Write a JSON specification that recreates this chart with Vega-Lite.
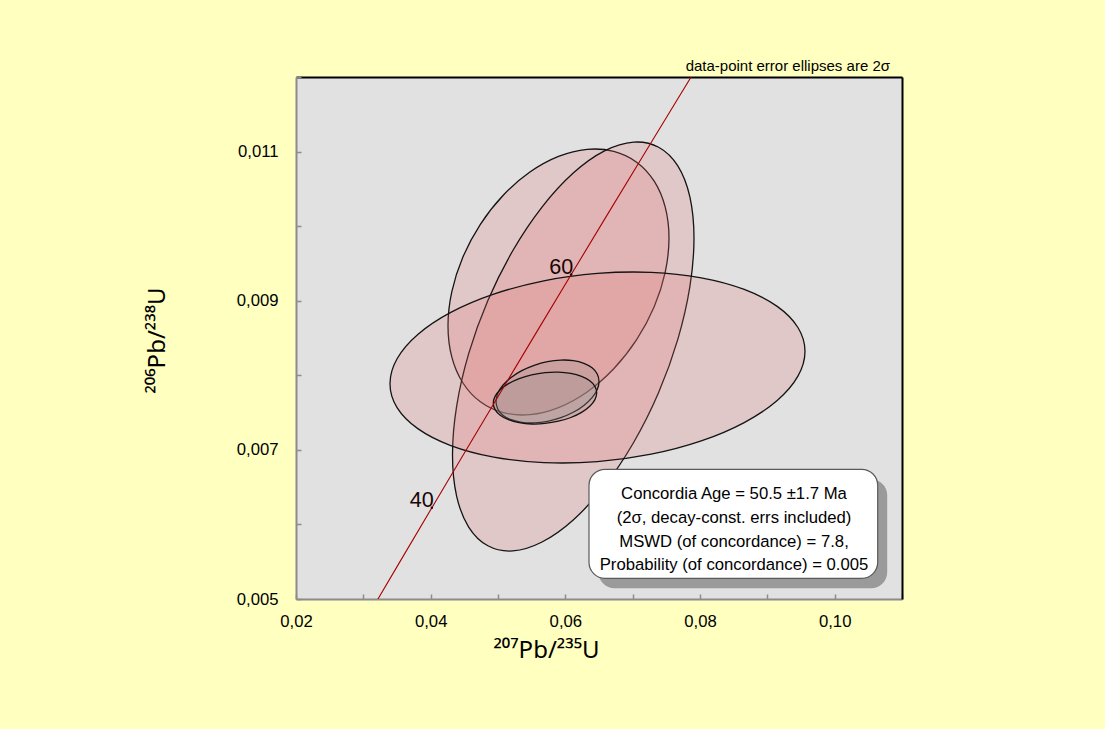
{
  "$schema": "https://vega.github.io/schema/vega-lite/v6.json",
  "width": 606,
  "height": 522,
  "autosize": "none",
  "padding": {"left": 296, "top": 77, "right": 203, "bottom": 130},
  "background": "#FFFFC0",
  "config": {
    "view": {"fill": "#E1E1E1", "stroke": null},
    "font": "Liberation Sans"
  },
  "title": {
    "text": "data-point error ellipses are 2σ",
    "anchor": "end",
    "frame": "group",
    "orient": "top",
    "offset": 7,
    "dx": -12,
    "dy": 24,
    "fontSize": 15,
    "fontWeight": "normal",
    "font": "Liberation Sans",
    "color": "#000000",
    "baseline": "alphabetic"
  },
  "datasets": {
    "ellipses": [
      {"e": "A", "k": 0, "x": 0.075396, "y": 0.009840},
      {"e": "A", "k": 1, "x": 0.074836, "y": 0.010255},
      {"e": "A", "k": 2, "x": 0.073197, "y": 0.010603},
      {"e": "A", "k": 3, "x": 0.070589, "y": 0.010858},
      {"e": "A", "k": 4, "x": 0.067191, "y": 0.011003},
      {"e": "A", "k": 5, "x": 0.063232, "y": 0.011030},
      {"e": "A", "k": 6, "x": 0.058985, "y": 0.010935},
      {"e": "A", "k": 7, "x": 0.054738, "y": 0.010725},
      {"e": "A", "k": 8, "x": 0.050780, "y": 0.010415},
      {"e": "A", "k": 9, "x": 0.047381, "y": 0.010025},
      {"e": "A", "k": 10, "x": 0.044773, "y": 0.009583},
      {"e": "A", "k": 11, "x": 0.043134, "y": 0.009118},
      {"e": "A", "k": 12, "x": 0.042574, "y": 0.008662},
      {"e": "A", "k": 13, "x": 0.043134, "y": 0.008247},
      {"e": "A", "k": 14, "x": 0.044773, "y": 0.007900},
      {"e": "A", "k": 15, "x": 0.047381, "y": 0.007644},
      {"e": "A", "k": 16, "x": 0.050780, "y": 0.007499},
      {"e": "A", "k": 17, "x": 0.054738, "y": 0.007472},
      {"e": "A", "k": 18, "x": 0.058985, "y": 0.007567},
      {"e": "A", "k": 19, "x": 0.063232, "y": 0.007777},
      {"e": "A", "k": 20, "x": 0.067191, "y": 0.008087},
      {"e": "A", "k": 21, "x": 0.070589, "y": 0.008477},
      {"e": "A", "k": 22, "x": 0.073197, "y": 0.008919},
      {"e": "A", "k": 23, "x": 0.074836, "y": 0.009384},

      {"e": "B", "k": 0, "x": 0.079108, "y": 0.009840},
      {"e": "B", "k": 1, "x": 0.078497, "y": 0.010392},
      {"e": "B", "k": 2, "x": 0.076705, "y": 0.010808},
      {"e": "B", "k": 3, "x": 0.073855, "y": 0.011058},
      {"e": "B", "k": 4, "x": 0.070142, "y": 0.011127},
      {"e": "B", "k": 5, "x": 0.065816, "y": 0.011009},
      {"e": "B", "k": 6, "x": 0.061175, "y": 0.010712},
      {"e": "B", "k": 7, "x": 0.056534, "y": 0.010256},
      {"e": "B", "k": 8, "x": 0.052209, "y": 0.009673},
      {"e": "B", "k": 9, "x": 0.048495, "y": 0.009003},
      {"e": "B", "k": 10, "x": 0.045645, "y": 0.008290},
      {"e": "B", "k": 11, "x": 0.043853, "y": 0.007584},
      {"e": "B", "k": 12, "x": 0.043242, "y": 0.006933},
      {"e": "B", "k": 13, "x": 0.043853, "y": 0.006380},
      {"e": "B", "k": 14, "x": 0.045645, "y": 0.005965},
      {"e": "B", "k": 15, "x": 0.048495, "y": 0.005714},
      {"e": "B", "k": 16, "x": 0.052209, "y": 0.005645},
      {"e": "B", "k": 17, "x": 0.056534, "y": 0.005764},
      {"e": "B", "k": 18, "x": 0.061175, "y": 0.006060},
      {"e": "B", "k": 19, "x": 0.065816, "y": 0.006516},
      {"e": "B", "k": 20, "x": 0.070142, "y": 0.007099},
      {"e": "B", "k": 21, "x": 0.073855, "y": 0.007769},
      {"e": "B", "k": 22, "x": 0.076705, "y": 0.008482},
      {"e": "B", "k": 23, "x": 0.078497, "y": 0.009188},

      {"e": "C", "k": 0, "x": 0.095594, "y": 0.008322},
      {"e": "C", "k": 1, "x": 0.094543, "y": 0.008641},
      {"e": "C", "k": 2, "x": 0.091465, "y": 0.008924},
      {"e": "C", "k": 3, "x": 0.086568, "y": 0.009151},
      {"e": "C", "k": 4, "x": 0.080186, "y": 0.009306},
      {"e": "C", "k": 5, "x": 0.072752, "y": 0.009380},
      {"e": "C", "k": 6, "x": 0.064777, "y": 0.009366},
      {"e": "C", "k": 7, "x": 0.056802, "y": 0.009267},
      {"e": "C", "k": 8, "x": 0.049368, "y": 0.009088},
      {"e": "C", "k": 9, "x": 0.042986, "y": 0.008843},
      {"e": "C", "k": 10, "x": 0.038089, "y": 0.008547},
      {"e": "C", "k": 11, "x": 0.035011, "y": 0.008221},
      {"e": "C", "k": 12, "x": 0.033960, "y": 0.007887},
      {"e": "C", "k": 13, "x": 0.035011, "y": 0.007567},
      {"e": "C", "k": 14, "x": 0.038089, "y": 0.007285},
      {"e": "C", "k": 15, "x": 0.042986, "y": 0.007058},
      {"e": "C", "k": 16, "x": 0.049368, "y": 0.006903},
      {"e": "C", "k": 17, "x": 0.056802, "y": 0.006829},
      {"e": "C", "k": 18, "x": 0.064777, "y": 0.006842},
      {"e": "C", "k": 19, "x": 0.072752, "y": 0.006942},
      {"e": "C", "k": 20, "x": 0.080186, "y": 0.007120},
      {"e": "C", "k": 21, "x": 0.086568, "y": 0.007366},
      {"e": "C", "k": 22, "x": 0.091465, "y": 0.007662},
      {"e": "C", "k": 23, "x": 0.094543, "y": 0.007988},

      {"e": "D", "k": 0, "x": 0.065000, "y": 0.007918},
      {"e": "D", "k": 1, "x": 0.064739, "y": 0.008017},
      {"e": "D", "k": 2, "x": 0.063975, "y": 0.008100},
      {"e": "D", "k": 3, "x": 0.062759, "y": 0.008161},
      {"e": "D", "k": 4, "x": 0.061175, "y": 0.008197},
      {"e": "D", "k": 5, "x": 0.059330, "y": 0.008204},
      {"e": "D", "k": 6, "x": 0.057351, "y": 0.008183},
      {"e": "D", "k": 7, "x": 0.055372, "y": 0.008134},
      {"e": "D", "k": 8, "x": 0.053527, "y": 0.008062},
      {"e": "D", "k": 9, "x": 0.051943, "y": 0.007970},
      {"e": "D", "k": 10, "x": 0.050727, "y": 0.007866},
      {"e": "D", "k": 11, "x": 0.049963, "y": 0.007756},
      {"e": "D", "k": 12, "x": 0.049703, "y": 0.007647},
      {"e": "D", "k": 13, "x": 0.049963, "y": 0.007548},
      {"e": "D", "k": 14, "x": 0.050727, "y": 0.007465},
      {"e": "D", "k": 15, "x": 0.051943, "y": 0.007404},
      {"e": "D", "k": 16, "x": 0.053527, "y": 0.007368},
      {"e": "D", "k": 17, "x": 0.055372, "y": 0.007361},
      {"e": "D", "k": 18, "x": 0.057351, "y": 0.007382},
      {"e": "D", "k": 19, "x": 0.059330, "y": 0.007431},
      {"e": "D", "k": 20, "x": 0.061175, "y": 0.007504},
      {"e": "D", "k": 21, "x": 0.062759, "y": 0.007596},
      {"e": "D", "k": 22, "x": 0.063975, "y": 0.007700},
      {"e": "D", "k": 23, "x": 0.064739, "y": 0.007809},

      {"e": "E", "k": 0, "x": 0.064658, "y": 0.007765},
      {"e": "E", "k": 1, "x": 0.064396, "y": 0.007851},
      {"e": "E", "k": 2, "x": 0.063629, "y": 0.007927},
      {"e": "E", "k": 3, "x": 0.062409, "y": 0.007986},
      {"e": "E", "k": 4, "x": 0.060819, "y": 0.008026},
      {"e": "E", "k": 5, "x": 0.058967, "y": 0.008043},
      {"e": "E", "k": 6, "x": 0.056980, "y": 0.008037},
      {"e": "E", "k": 7, "x": 0.054993, "y": 0.008007},
      {"e": "E", "k": 8, "x": 0.053141, "y": 0.007956},
      {"e": "E", "k": 9, "x": 0.051551, "y": 0.007888},
      {"e": "E", "k": 10, "x": 0.050331, "y": 0.007806},
      {"e": "E", "k": 11, "x": 0.049564, "y": 0.007717},
      {"e": "E", "k": 12, "x": 0.049302, "y": 0.007626},
      {"e": "E", "k": 13, "x": 0.049564, "y": 0.007540},
      {"e": "E", "k": 14, "x": 0.050331, "y": 0.007464},
      {"e": "E", "k": 15, "x": 0.051551, "y": 0.007405},
      {"e": "E", "k": 16, "x": 0.053141, "y": 0.007365},
      {"e": "E", "k": 17, "x": 0.054993, "y": 0.007347},
      {"e": "E", "k": 18, "x": 0.056980, "y": 0.007354},
      {"e": "E", "k": 19, "x": 0.058967, "y": 0.007384},
      {"e": "E", "k": 20, "x": 0.060819, "y": 0.007434},
      {"e": "E", "k": 21, "x": 0.062409, "y": 0.007503},
      {"e": "E", "k": 22, "x": 0.063629, "y": 0.007585},
      {"e": "E", "k": 23, "x": 0.064396, "y": 0.007674}
    ],
    "concordia": [
      {"t": 30, "x": 0.029986, "y": 0.0046646},
      {"t": 35, "x": 0.035071, "y": 0.0054441},
      {"t": 40, "x": 0.040180, "y": 0.0062243},
      {"t": 45, "x": 0.045315, "y": 0.0070050},
      {"t": 50, "x": 0.050475, "y": 0.0077864},
      {"t": 55, "x": 0.055661, "y": 0.0085684},
      {"t": 60, "x": 0.060872, "y": 0.0093509},
      {"t": 65, "x": 0.066108, "y": 0.0101341},
      {"t": 70, "x": 0.071371, "y": 0.0109179},
      {"t": 75, "x": 0.076660, "y": 0.0117023},
      {"t": 80, "x": 0.081975, "y": 0.0124873}
    ],
    "box": [
      {"x1": 0.063515, "x2": 0.106391, "y1": 0.0052776, "y2": 0.0067393,
       "sx1": 0.064926, "sx2": 0.107802, "sy1": 0.0051435, "sy2": 0.0066052,
       "tx": 0.08505, "ty": 0.006337,
       "note": "Concordia Age = 50.5 ±1.7 Ma\n(2σ, decay-const. errs included)\nMSWD (of concordance) = 7.8,\nProbability (of concordance) = 0.005"}
    ]
  },
  "layer": [
    {
      "data": {"name": "ellipses"},
      "transform": [{"filter": "datum.e == 'A' || datum.e == 'B' || datum.e == 'C'"}],
      "mark": {"type": "line", "interpolate": "cardinal-closed", "fill": "#E47474", "fillOpacity": 0.22, "stroke": "#141414", "strokeWidth": 1.3},
      "encoding": {
        "x": {"field": "x", "type": "quantitative",
          "scale": {"domain": [0.02, 0.11], "nice": false, "zero": false},
          "axis": {
            "orient": "bottom",
            "values": [0.02, 0.03, 0.04, 0.05, 0.06, 0.07, 0.08, 0.09, 0.1, 0.11],
            "labelExpr": "round(datum.value * 100) % 2 == 0 ? replace(format(datum.value, '.2f'), '.', ',') : ''",
            "labelFlush": false, "labelOverlap": false, "labelBound": false,
            "labelFont": "Liberation Sans", "labelFontSize": 16.7, "labelColor": "#000000", "labelPadding": 19,
            "tickSize": -5, "tickColor": "#8c8c8c", "tickWidth": 1.5,
            "domainColor": "#8c8c8c", "domainWidth": 2, "grid": false,
            "title": "²⁰⁷Pb/²³⁵U", "titleFont": "Noto Sans", "titleFontSize": 24, "titleFontWeight": "normal",
            "titleColor": "#000000", "titleX": 250, "titleY": 58, "titleBaseline": "alphabetic", "titleAlign": "center", "titleAngle": 0
          }},
        "y": {"field": "y", "type": "quantitative",
          "scale": {"domain": [0.005, 0.012], "nice": false, "zero": false},
          "axis": {
            "orient": "left",
            "values": [0.005, 0.006, 0.007, 0.008, 0.009, 0.01, 0.011, 0.012],
            "labelExpr": "round(datum.value * 1000) % 2 == 1 ? replace(format(datum.value, '.3f'), '.', ',') : ''",
            "labelFlush": false, "labelOverlap": false, "labelBound": false,
            "labelFont": "Liberation Sans", "labelFontSize": 16.7, "labelColor": "#000000", "labelPadding": 23,
            "tickSize": -5, "tickColor": "#8c8c8c", "tickWidth": 1.5,
            "domainColor": "#8c8c8c", "domainWidth": 2, "grid": false,
            "title": "²⁰⁶Pb/²³⁸U", "titleFont": "Noto Sans", "titleFontSize": 24, "titleFontWeight": "normal",
            "titleColor": "#000000", "titleX": -132, "titleY": 263, "titleBaseline": "alphabetic", "titleAlign": "center", "titleAngle": -90
          }},
        "detail": {"field": "e"},
        "order": {"field": "k", "type": "quantitative"}
      }
    },
    {
      "data": {"name": "ellipses"},
      "transform": [{"filter": "datum.e == 'D' || datum.e == 'E'"}],
      "mark": {"type": "line", "interpolate": "cardinal-closed", "fill": "#9c9494", "fillOpacity": 0.28, "stroke": "#141414", "strokeWidth": 1.3},
      "encoding": {
        "x": {"field": "x", "type": "quantitative", "axis": null},
        "y": {"field": "y", "type": "quantitative", "axis": null},
        "detail": {"field": "e"},
        "order": {"field": "k", "type": "quantitative"}
      }
    },
    {
      "data": {"name": "concordia"},
      "mark": {"type": "line", "clip": true, "interpolate": "monotone", "stroke": "#a80000", "strokeWidth": 1.1},
      "encoding": {
        "x": {"field": "x", "type": "quantitative", "axis": null},
        "y": {"field": "y", "type": "quantitative", "axis": null},
        "order": {"field": "t", "type": "quantitative"}
      }
    },
    {
      "data": {"name": "concordia"},
      "transform": [{"filter": "datum.t == 40 || datum.t == 60"}],
      "mark": {"type": "point", "filled": true, "size": 6, "color": "#300000", "opacity": 1},
      "encoding": {
        "x": {"field": "x", "type": "quantitative", "axis": null},
        "y": {"field": "y", "type": "quantitative", "axis": null}
      }
    },
    {
      "data": {"name": "concordia"},
      "transform": [{"filter": "datum.t == 40 || datum.t == 60"}],
      "mark": {"type": "text", "align": "right", "baseline": "alphabetic", "dx": 2, "dy": -1, "fontSize": 21.6, "font": "Liberation Sans", "color": "#1a0505"},
      "encoding": {
        "x": {"field": "x", "type": "quantitative", "axis": null},
        "y": {"field": "y", "type": "quantitative", "axis": null},
        "text": {"field": "t", "type": "nominal"}
      }
    },
    {
      "data": {"name": "box"},
      "mark": {"type": "rect", "cornerRadius": 16, "fill": "#9a9a9a", "stroke": null},
      "encoding": {
        "x": {"field": "sx1", "type": "quantitative", "axis": null},
        "x2": {"field": "sx2"},
        "y": {"field": "sy1", "type": "quantitative", "axis": null},
        "y2": {"field": "sy2"}
      }
    },
    {
      "data": {"name": "box"},
      "mark": {"type": "rect", "cornerRadius": 16, "fill": "#ffffff", "stroke": "#5a5a5a", "strokeWidth": 1.2},
      "encoding": {
        "x": {"field": "x1", "type": "quantitative",
          "axis": {"orient": "top", "ticks": false, "labels": false, "title": null, "grid": false, "domainColor": "#000000", "domainWidth": 2}},
        "x2": {"field": "x2"},
        "y": {"field": "y1", "type": "quantitative",
          "axis": {"orient": "right", "ticks": false, "labels": false, "title": null, "grid": false, "domainColor": "#000000", "domainWidth": 2}},
        "y2": {"field": "y2"}
      }
    },
    {
      "data": {"name": "box"},
      "mark": {"type": "text", "align": "center", "baseline": "alphabetic", "lineBreak": "\n", "lineHeight": 23.7, "fontSize": 16.7, "font": "Liberation Sans", "color": "#000000"},
      "encoding": {
        "x": {"field": "tx", "type": "quantitative", "axis": null},
        "y": {"field": "ty", "type": "quantitative", "axis": null},
        "text": {"field": "note", "type": "nominal"}
      }
    }
  ],
  "resolve": {"axis": {"x": "independent", "y": "independent"}}
}
